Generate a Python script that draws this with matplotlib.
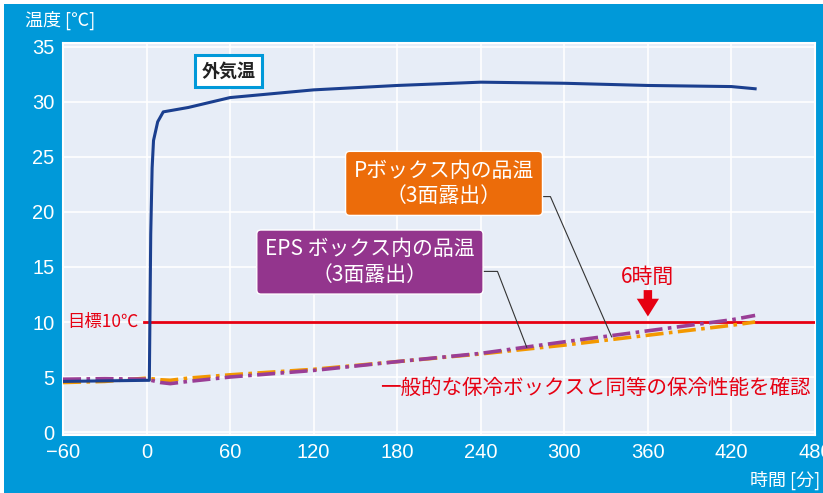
import matplotlib.pyplot as plt
from matplotlib.patches import Rectangle

plt.rcParams['font.family'] = ['Noto Sans CJK JP', 'DejaVu Sans']

# data
t_out = [-60, 0, 2, 3, 4, 5, 8, 12, 30, 60, 120, 180, 240, 300, 360, 420, 437]
v_out = [4.6, 4.7, 4.7, 18, 24, 26.5, 28.2, 29.1, 29.5, 30.4, 31.1, 31.5, 31.8, 31.7, 31.5, 31.4, 31.2]

t_box = [-60, -30, 0, 10, 17, 30, 60, 120, 180, 240, 300, 360, 420, 437]
v_p = [4.5, 4.6, 4.9, 4.75, 4.7, 4.9, 5.2, 5.7, 6.4, 7.1, 7.9, 8.8, 9.7, 10.0]
v_eps = [4.8, 4.85, 4.8, 4.5, 4.4, 4.6, 5.0, 5.6, 6.4, 7.15, 8.2, 9.2, 10.2, 10.6]

target = 10
xticks = [-60, 0, 60, 120, 180, 240, 300, 360, 420, 480]
yticks = [0, 5, 10, 15, 20, 25, 30, 35]

BLUE = '#0099D9'
RED = '#E60012'
W, H = 823, 493

fig = plt.figure(figsize=(W / 100, H / 100), dpi=100)
fig.patch.set_facecolor('white')
fig.add_artist(Rectangle((4 / W, 0), 1, 489 / H, transform=fig.transFigure,
                         facecolor=BLUE, edgecolor='none', zorder=-10))

ax = fig.add_axes([63 / W, (H - 435) / H, (815 - 63) / W, (435 - 43) / H])
ax.set_facecolor('#E7EDF7')
ax.set_xlim(-60, 480)
ax.set_ylim(-0.27, 35.36)
ax.set_xticks(xticks)
ax.set_yticks(yticks)
ax.set_xticklabels([str(x).replace('-', '\u2212') for x in xticks])
ax.tick_params(length=0, colors='white', labelsize=14.5, pad=6)
for lab in ax.get_xticklabels() + ax.get_yticklabels():
    lab.set_family(['Liberation Sans', 'DejaVu Sans'])
ax.grid(color='white', lw=1.2)
ax.set_axisbelow(True)
for s in ax.spines.values():
    s.set_color('white')
    s.set_linewidth(1.5)

ax.plot([-2, 480], [target, target], color=RED, lw=2, zorder=3)
ax.plot(t_box, v_p, color='#F39800', lw=2.6, dashes=(5, 1.5, 1, 1.5), zorder=4)
ax.plot(t_box, v_eps, color='#9A3E96', lw=2.6, dashes=(5, 1.5, 1, 1.5), zorder=4)
ax.plot(t_out, v_out, color='#1B3F8F', lw=2.2, zorder=5)

ax.text(-6, target, '目標10℃', color=RED, fontsize=12.5, ha='right', va='center')
ax.text(360, 14.1, '6時間', color=RED, fontsize=15, ha='center', va='center')
ax.annotate('', xy=(360, 10.5), xytext=(360, 12.9),
            arrowprops=dict(arrowstyle='simple,head_width=1.0,head_length=0.8,tail_width=0.38',
                            color=RED, lw=0, mutation_scale=16, shrinkA=0, shrinkB=0))
ax.text(322, 4.0, '一般的な保冷ボックスと同等の保冷性能を確認', color=RED, fontsize=14.8,
        ha='center', va='center')

ax.text(59, 32.8, '外気温', fontsize=13, fontweight='bold', color='#222222', ha='center', va='center',
        bbox=dict(boxstyle='square,pad=0.35', fc='white', ec=BLUE, lw=2.2))

ax.plot([283, 290, 334], [21.4, 21.4, 8.65], color='#333333', lw=0.8, zorder=6)
ax.plot([242, 252, 273], [14.6, 14.6, 7.7], color='#333333', lw=0.8, zorder=6)
ax.text(213.6, 22.6, 'Pボックス内の品温\n（3面露出）', color='white', fontsize=15,
        ha='center', va='center', linespacing=1.2, zorder=7,
        bbox=dict(boxstyle='round,pad=0.4,rounding_size=0.2', fc='#EC6C0A', ec='white', lw=1))
ax.text(160.4, 15.45, 'EPS ボックス内の品温\n（3面露出）', color='white', fontsize=15,
        ha='center', va='center', linespacing=1.2, zorder=7,
        bbox=dict(boxstyle='round,pad=0.4,rounding_size=0.2', fc='#93358D', ec='white', lw=1))

fig.text(25 / W, 1 - 20 / H, '温度 [℃]', color='white', fontsize=13, ha='left', va='center')
fig.text(820 / W, 1 - 480 / H, '時間 [分]', color='white', fontsize=13, ha='right', va='center')

fig.savefig('out.png', dpi=100, facecolor=fig.get_facecolor())
